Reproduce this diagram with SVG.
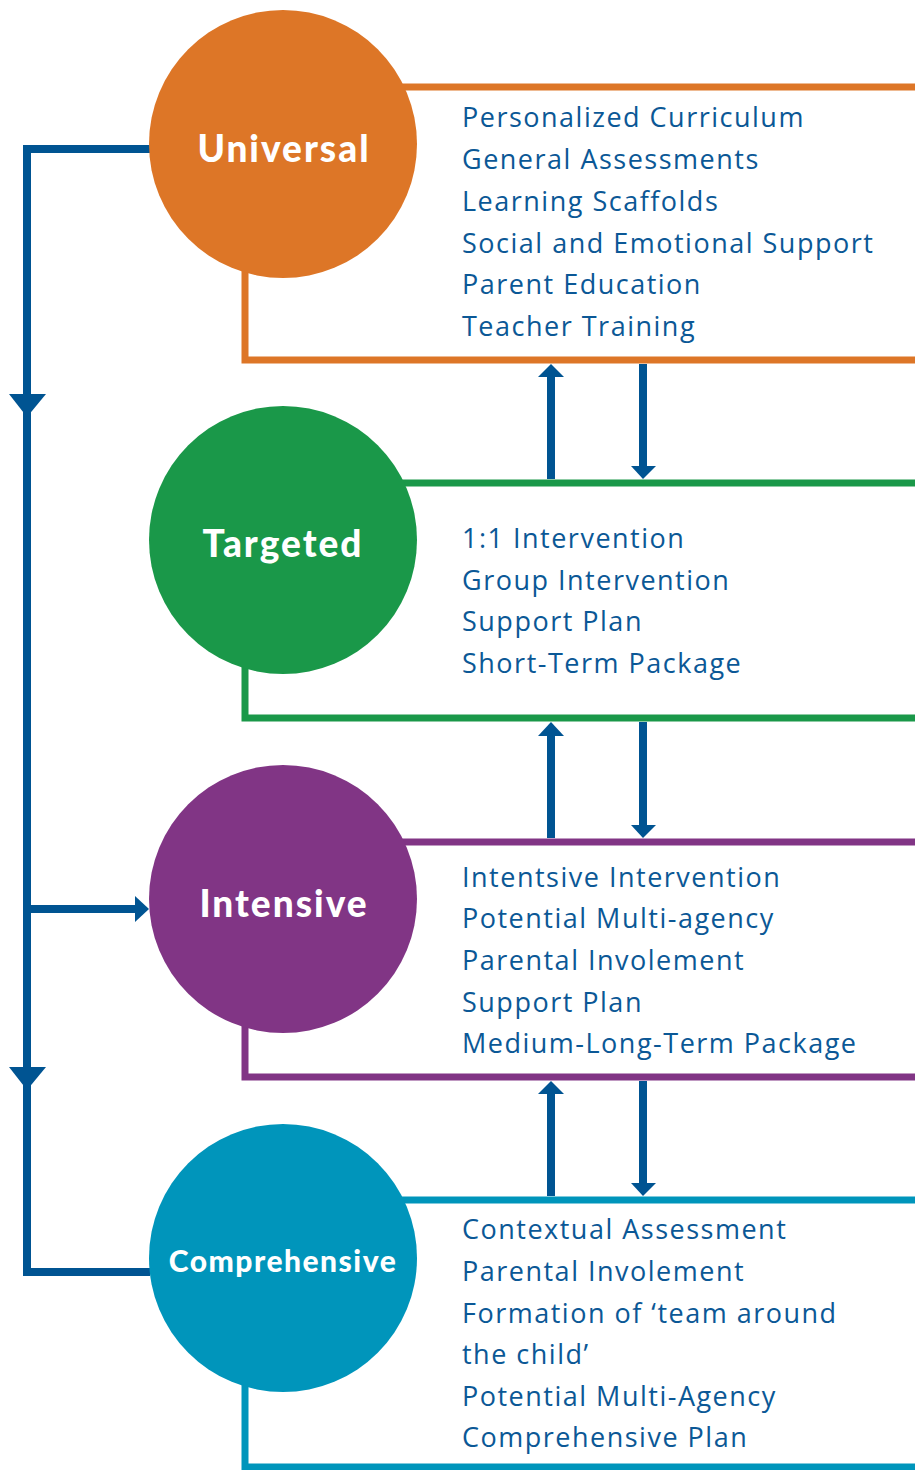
<svg xmlns="http://www.w3.org/2000/svg" width="915" height="1470" viewBox="0 0 915 1470">
  <style>
    .item { font-family: "Open Sans", "Liberation Sans", sans-serif; font-size: 27px; letter-spacing: 1.5px; fill: #0B5896; }
    .label { font-family: "Lato", "Liberation Sans", sans-serif; font-weight: 900; fill: #ffffff; text-anchor: middle; }
    .big { font-size: 37px; letter-spacing: 2px; }
    .small { font-size: 30px; letter-spacing: 1.5px; }
    .frame { fill: none; stroke-width: 7; }
    .flow { fill: none; stroke: #005492; stroke-width: 8; }
    .head { fill: #005492; }
  </style>
  <rect width="915" height="1470" fill="#ffffff"/>

  <!-- tier frames -->
  <g id="frames">
    <path class="frame" stroke="#DD7627" d="M283 87 H915 M245 200 V360 H915"/>
    <path class="frame" stroke="#1A9849" d="M283 483 H915 M245 600 V718 H915"/>
    <path class="frame" stroke="#813585" d="M283 842 H915 M245 960 V1077 H915"/>
    <path class="frame" stroke="#0095BB" d="M283 1200 H915 M245 1320 V1467 H915"/>
  </g>

  <!-- connectors -->
  <g id="connectors">
    <path class="flow" d="M150 149 H27 V1272 H150"/>
    <polygon class="head" points="9,394 46,394 27,417"/>
    <polygon class="head" points="9,1067 46,1067 27,1090"/>
    <path class="flow" d="M27 909 H136"/>
    <polygon class="head" points="135,896 149,909 135,922"/>

    <!-- between Universal and Targeted -->
    <path class="flow" d="M551 479 V374"/>
    <polygon class="head" points="538,377 564,377 551,364"/>
    <path class="flow" d="M643 364 V468"/>
    <polygon class="head" points="631,466 656,466 643,479"/>

    <!-- between Targeted and Intensive -->
    <path class="flow" d="M551 838 V733"/>
    <polygon class="head" points="538,736 564,736 551,722"/>
    <path class="flow" d="M643 722 V827"/>
    <polygon class="head" points="631,825 656,825 643,838"/>

    <!-- between Intensive and Comprehensive -->
    <path class="flow" d="M551 1196 V1091"/>
    <polygon class="head" points="538,1094 564,1094 551,1081"/>
    <path class="flow" d="M643 1081 V1185"/>
    <polygon class="head" points="631,1183 656,1183 643,1196"/>
  </g>

  <g id="universal">
    <circle cx="283" cy="144" r="134" fill="#DD7627"/>
    <text class="label big" x="284" y="162">Universal</text>
    <text class="item" x="462" y="127">Personalized Curriculum</text>
    <text class="item" x="462" y="169">General Assessments</text>
    <text class="item" x="462" y="211">Learning Scaffolds</text>
    <text class="item" x="462" y="253">Social and Emotional Support</text>
    <text class="item" x="462" y="294">Parent Education</text>
    <text class="item" x="462" y="336">Teacher Training</text>
  </g>

  <g id="targeted">
    <circle cx="283" cy="540" r="134" fill="#1A9849"/>
    <text class="label big" x="283" y="557">Targeted</text>
    <text class="item" x="462" y="548">1:1 Intervention</text>
    <text class="item" x="462" y="590">Group Intervention</text>
    <text class="item" x="462" y="631">Support Plan</text>
    <text class="item" x="462" y="673">Short-Term Package</text>
  </g>

  <g id="intensive">
    <circle cx="283" cy="899" r="134" fill="#813585"/>
    <text class="label big" x="284" y="917">Intensive</text>
    <text class="item" x="462" y="887">Intentsive Intervention</text>
    <text class="item" x="462" y="928">Potential Multi-agency</text>
    <text class="item" x="462" y="970">Parental Involement</text>
    <text class="item" x="462" y="1012">Support Plan</text>
    <text class="item" x="462" y="1053">Medium-Long-Term Package</text>
  </g>

  <g id="comprehensive">
    <circle cx="283" cy="1258" r="134" fill="#0095BB"/>
    <text class="label small" x="283" y="1272">Comprehensive</text>
    <text class="item" x="462" y="1239">Contextual Assessment</text>
    <text class="item" x="462" y="1281">Parental Involement</text>
    <text class="item" x="462" y="1323">Formation of ‘team around</text>
    <text class="item" x="462" y="1364">the child’</text>
    <text class="item" x="462" y="1406">Potential Multi-Agency</text>
    <text class="item" x="462" y="1447">Comprehensive Plan</text>
  </g>
</svg>
